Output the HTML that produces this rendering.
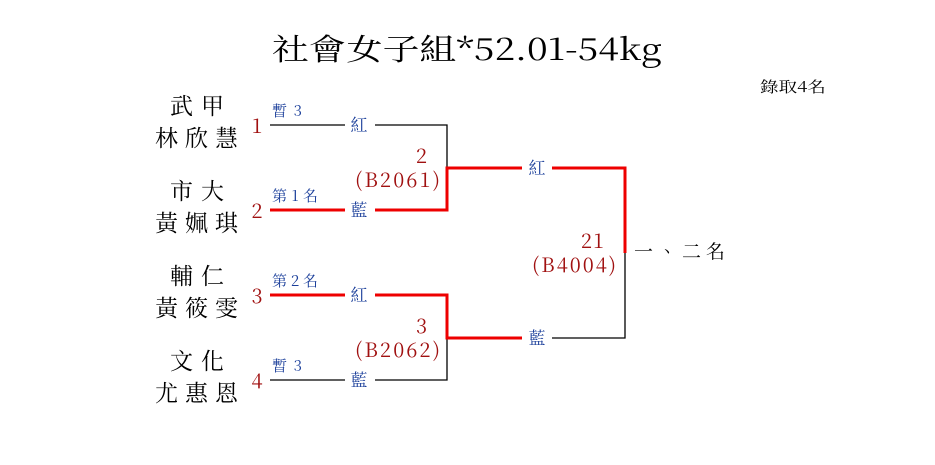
<!DOCTYPE html>
<html><head><meta charset="utf-8"><style>
html,body{margin:0;padding:0;background:#fff;width:935px;height:465px;overflow:hidden}
svg{display:block}
text{font-family:"Noto Serif CJK TC","Noto Serif CJK SC","Liberation Serif",serif}
.m{font-family:"Liberation Mono","Noto Serif CJK TC",monospace}
</style></head><body>
<svg width="935" height="465" viewBox="0 0 935 465">
<text x="272" y="60" font-size="30" fill="#000" textLength="390" lengthAdjust="spacingAndGlyphs">社會女子組*52.01-54kg</text>
<text x="760" y="92" font-size="15" fill="#000" textLength="66" lengthAdjust="spacingAndGlyphs">錄取4名</text>
<g font-size="23" fill="#000">
<text x="170" y="114" textLength="54">武甲</text><text x="155" y="146" textLength="83">林欣慧</text>
<text x="170" y="199" textLength="54">市大</text><text x="155" y="231" textLength="83">黃姵琪</text>
<text x="170" y="284" textLength="54">輔仁</text><text x="155" y="316" textLength="83">黃筱雯</text>
<text x="170" y="369" textLength="54">文化</text><text x="155" y="401" textLength="83">尤惠恩</text>
</g>
<g font-size="20" fill="#a01010" text-anchor="middle">
<text x="257" y="133">1</text><text x="257" y="218">2</text>
<text x="257" y="303">3</text><text x="257" y="388">4</text>
</g>
<g font-size="15" fill="#1a3e9a">
<text x="272" y="116" textLength="30">暫3</text><text x="272" y="201" textLength="46">第1名</text>
<text x="272" y="286" textLength="46">第2名</text><text x="272" y="371" textLength="30">暫3</text>
</g>
<g stroke="#000" stroke-width="1.3" fill="none">
<path d="M270 125H345M375 125H447V168"/>
<path d="M270 380H345M375 380H447V338"/>
<path d="M625 253V338H552"/>
</g>
<g stroke="#ee0000" stroke-width="3" fill="none">
<path d="M270 210H345M375 210H447V168H522M552 168H625V253"/>
<path d="M270 295H345M375 295H447V338H522"/>
</g>
<g font-size="17" fill="#1a3e9a" text-anchor="middle">
<text x="359" y="131">紅</text><text x="359" y="216">藍</text>
<text x="359" y="301">紅</text><text x="359" y="386">藍</text>
<text x="537" y="174">紅</text><text x="537" y="344">藍</text>
</g>
<g font-size="20" fill="#a01010">
<text x="416" y="163">2</text><text x="355" y="187" textLength="85">(B2061)</text>
<text x="416" y="333">3</text><text x="355" y="357" textLength="85">(B2062)</text>
<text x="581" y="248" textLength="23">21</text><text x="532" y="272" textLength="84">(B4004)</text>
</g>
<text x="634" y="258" font-size="19" fill="#000" textLength="91">一、二名</text>
</svg>
</body></html>
